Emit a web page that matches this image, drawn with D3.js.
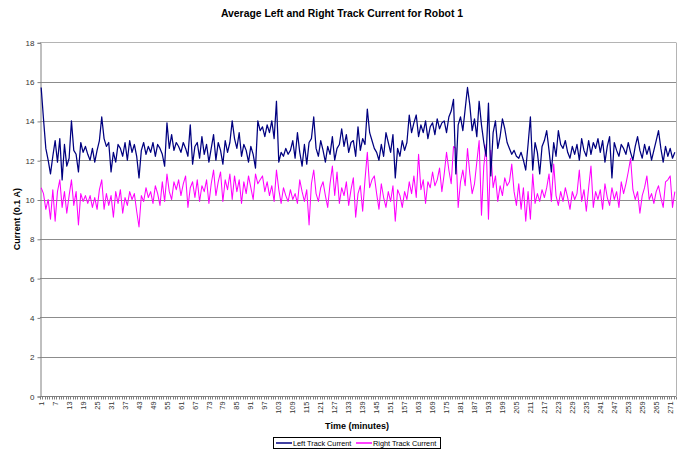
<!DOCTYPE html>
<html>
<head>
<meta charset="utf-8">
<script src="https://cdn.jsdelivr.net/npm/d3@7/dist/d3.min.js"></script>
<style>
  html, body { margin: 0; padding: 0; background: #fff; }
  svg { display: block; font-family: "Liberation Sans", Arial, sans-serif; }
</style>
</head>
<body>
<svg id="chart" width="683" height="451"></svg>
<script>
// Minute-by-minute average track current (units of 0.1 A)
const leftTrack = [
  15.7, 14.1, 12.6, 12.0, 11.3, 12.2, 13.0, 11.9, 13.1, 11.0,
  12.8, 11.7, 12.1, 14.0, 12.5, 12.3, 11.4, 12.9, 12.4, 12.7,
  12.3, 12.0, 12.6, 11.9, 12.5, 13.0, 14.2, 13.1, 12.7, 12.9,
  11.4, 12.4, 11.9, 12.8, 12.6, 12.2, 12.9, 12.0, 13.0, 12.4,
  12.8, 12.2, 11.1, 12.5, 12.9, 12.3, 12.7, 12.4, 12.9, 12.2,
  12.8, 12.6, 12.3, 11.7, 13.9, 12.6, 13.3, 12.5, 12.9, 12.7,
  12.4, 12.9, 12.6, 12.2, 13.8, 11.8, 12.7, 12.9, 12.1, 13.2,
  12.3, 12.8, 11.9, 12.6, 13.3, 12.0, 12.9, 12.5, 11.8, 13.0,
  12.4, 12.9, 14.0, 13.1, 12.6, 13.4, 12.2, 12.8, 12.5, 11.9,
  12.7, 12.3, 11.6, 14.0, 13.5, 13.7, 13.2, 13.8, 13.4, 14.0,
  13.1, 15.0, 11.9, 12.4, 12.2, 12.6, 12.3, 12.5, 13.0, 12.1,
  13.4, 12.4, 11.7, 12.8, 11.8, 12.9, 13.1, 14.2, 12.6, 12.2,
  13.0, 12.5, 11.9, 12.7, 12.3, 13.2, 12.0, 12.6, 12.8, 13.6,
  12.7, 13.3, 12.4, 12.9, 13.0, 12.2, 13.7, 12.5, 13.1, 12.8,
  14.6, 13.4, 13.0, 12.6, 12.4, 12.0, 12.8, 12.2, 13.4, 12.9,
  12.4, 13.3, 11.1, 12.6, 12.2, 13.0, 12.5, 12.9, 14.3, 13.4,
  13.9, 14.3, 13.2, 13.8, 13.4, 14.0, 13.1, 13.7, 13.9, 13.3,
  14.1, 13.6, 13.9, 14.0, 13.4, 14.2, 14.5, 15.1, 11.3, 13.8,
  14.2, 13.5, 14.6, 15.7, 14.8, 13.5, 14.1, 13.2, 15.0, 13.8,
  12.9, 12.2, 14.9, 11.2, 13.4, 14.0, 12.6, 13.2, 14.1, 13.6,
  12.9, 12.6, 12.3, 12.5, 12.2, 12.1, 12.4, 12.0, 11.5, 12.8,
  14.2, 11.5, 12.9, 12.4, 11.3, 12.7, 13.0, 13.5, 12.5, 11.4,
  12.9, 12.2, 13.5, 12.8, 12.6, 13.0, 12.4, 12.1, 12.7, 12.3,
  12.8, 12.0, 13.1, 12.5, 12.2, 13.0, 12.3, 12.9, 12.6, 13.1,
  12.4, 13.0, 11.9, 12.7, 13.2, 11.1, 12.9, 12.5, 12.2, 12.8,
  12.6, 12.3, 12.9, 12.4, 12.0, 12.7, 13.2, 12.5, 12.1, 12.8,
  12.3, 12.7, 12.0, 12.5, 13.0, 13.5, 12.6, 11.9, 12.7, 12.2,
  12.6, 12.1, 12.4
];

const rightTrack = [
  10.6, 10.3, 9.5, 10.0, 9.0, 10.5, 8.9, 10.4, 11.0, 9.6,
  10.4, 9.3, 10.2, 11.0, 9.7, 10.4, 8.7, 10.3, 9.9, 10.2,
  9.8, 10.2, 9.6, 10.1, 9.5, 10.5, 11.0, 9.5, 10.3, 9.7,
  10.2, 9.1, 10.4, 9.8, 10.5, 9.3, 10.1, 9.7, 10.4, 10.0,
  10.3, 9.4, 8.6, 10.2, 9.9, 10.6, 10.1, 10.4, 9.8, 10.7,
  10.3, 9.7, 10.9, 9.9, 11.3, 10.4, 10.0, 10.9, 10.5, 11.0,
  10.2, 10.8, 11.2, 9.6, 10.6, 10.9, 10.1, 11.0, 9.9, 10.7,
  10.4, 11.0, 9.8, 10.8, 11.5, 10.2, 10.9, 11.4, 9.9, 11.0,
  10.5, 11.3, 10.0, 11.2, 10.4, 11.0, 9.8, 10.9, 10.3, 11.2,
  10.6, 10.0, 11.3, 10.8, 11.0, 11.2, 10.4, 10.9, 10.2, 10.7,
  9.9, 11.5, 10.5, 9.8, 10.6, 10.2, 9.9, 10.5, 10.0, 10.3,
  9.8, 11.0, 10.4, 9.9, 10.5, 8.7, 10.8, 11.5, 10.3, 9.9,
  10.6, 10.9, 10.2, 9.6, 10.8, 11.7, 10.2, 11.4, 9.8, 10.6,
  10.2, 10.9, 9.7, 10.5, 11.1, 9.1, 10.3, 10.7, 9.4, 11.0,
  12.4, 10.6, 11.0, 11.2, 10.3, 9.5, 10.8, 10.1, 9.6, 10.4,
  9.9, 10.7, 8.9, 10.5, 10.2, 9.6, 10.4, 10.0, 10.9, 10.3,
  11.2, 10.1, 12.3, 10.5, 11.0, 9.8, 10.9, 10.6, 11.4, 10.7,
  11.0, 11.6, 10.4, 11.3, 12.4, 11.5, 10.8, 12.7, 12.6, 9.6,
  10.9, 11.5, 10.7, 12.6, 11.3, 10.3, 10.8, 11.9, 13.0, 9.2,
  11.7, 12.8, 9.0, 12.5, 10.6, 11.2, 9.9, 10.7, 10.2, 11.1,
  10.7, 10.9, 11.8, 10.4, 9.7, 10.8, 9.5, 10.6, 8.9, 10.4,
  9.0, 11.3, 9.8, 10.3, 9.9, 10.5, 10.1, 10.6, 11.3, 9.9,
  11.8, 10.2, 9.7, 10.4, 9.9, 10.6, 10.1, 9.5, 10.4, 10.0,
  10.3, 11.5, 9.9, 10.5, 9.4, 10.6, 11.7, 9.6, 10.4, 10.0,
  10.5, 9.5, 10.8, 10.1, 9.7, 10.6, 10.0, 10.4, 9.6, 10.9,
  10.3, 10.8, 11.4, 12.1, 10.5, 10.0, 10.4, 9.3, 10.2, 10.6,
  11.2, 10.0, 10.3, 9.8, 10.4, 10.7, 10.1, 9.6, 10.9, 11.0,
  11.2, 9.6, 10.4
];

// Time axis categories: minute 1 .. 273
const minutes = d3.range(1, leftTrack.length + 1);
// Every sixth minute gets a label
const minuteLabels = minutes.filter(m => (m - 1) % 6 === 0);
const currentTicks = [0, 2, 4, 6, 8, 10, 12, 14, 16, 18];

const seriesNames = ["Left Track Current", "Right Track Current"];
const seriesColors = ["#000080", "#ff00ff"];
const seriesWidths = [1.25, 1.05];

const svg = d3.select("#chart");
const plot = { left: 40, right: 676, top: 42.3, bottom: 396 };

const x = d3.scalePoint()
  .domain(minutes)
  .range([plot.left, plot.right])
  .padding(0.5);
const step = x.step();

const y = d3.scaleLinear()
  .domain([0, 18])
  .range([plot.bottom, plot.top]);

// Title
svg.append("text")
  .attr("x", 342).attr("y", 17)
  .attr("text-anchor", "middle")
  .attr("font-size", 10.4).attr("font-weight", "bold")
  .attr("fill", "#000")
  .text("Average Left and Right Track Current for Robot 1");

// Horizontal gridlines
svg.append("g")
  .selectAll("line")
  .data(currentTicks.filter(v => v > 0))
  .join("line")
  .attr("x1", plot.left).attr("x2", plot.right)
  .attr("y1", d => Math.round(y(d)) + 0.5).attr("y2", d => Math.round(y(d)) + 0.5)
  .attr("stroke", d => d === 18 ? "#b4b4b4" : "#8c8c8c")
  .attr("stroke-width", 1);

// Right border of plot area
svg.append("line")
  .attr("x1", plot.right + 0.5).attr("x2", plot.right + 0.5)
  .attr("y1", Math.round(plot.top) + 0.5).attr("y2", plot.bottom)
  .attr("stroke", "#b4b4b4");

// Y axis
const yAxis = d3.axisLeft(y)
  .tickValues(currentTicks)
  .tickSize(3)
  .tickPadding(3)
  .tickFormat(d3.format("d"));
const gy = svg.append("g")
  .attr("transform", `translate(${plot.left + 0.5},0.5)`)
  .call(yAxis);
gy.select(".domain").attr("stroke", "#808080");
gy.selectAll(".tick line").attr("stroke", "#808080");
gy.selectAll(".tick text")
  .attr("font-size", 8).attr("fill", "#333")
  .attr("font-family", "Liberation Sans, Arial, sans-serif");

// X axis: tick marks between categories, labels on every sixth minute
const gx = svg.append("g")
  .attr("transform", `translate(0,${Math.round(plot.bottom) + 0.5})`);
gx.append("line")
  .attr("x1", plot.left).attr("x2", plot.right)
  .attr("stroke", "#808080");
gx.selectAll("line.tk")
  .data(minutes)
  .join("line")
  .attr("class", "tk")
  .attr("x1", d => Math.round(x(d) - step / 2) + 0.5)
  .attr("x2", d => Math.round(x(d) - step / 2) + 0.5)
  .attr("y1", 0).attr("y2", 3)
  .attr("stroke", "#808080");
gx.append("line")
  .attr("x1", plot.right + 0.5).attr("x2", plot.right + 0.5)
  .attr("y1", 0).attr("y2", 3)
  .attr("stroke", "#808080");
gx.selectAll("text")
  .data(minuteLabels)
  .join("text")
  .attr("transform", d => `translate(${x(d) + 2.6},5) rotate(-90)`)
  .attr("text-anchor", "end")
  .attr("font-size", 7.4)
  .attr("fill", "#333")
  .text(d => d);

// Axis titles
svg.append("text")
  .attr("x", 357).attr("y", 429)
  .attr("text-anchor", "middle")
  .attr("font-size", 9).attr("font-weight", "bold")
  .text("Time (minutes)");
svg.append("text")
  .attr("transform", `translate(20,${(plot.top + plot.bottom) / 2}) rotate(-90)`)
  .attr("text-anchor", "middle")
  .attr("font-size", 9).attr("font-weight", "bold")
  .text("Current (0.1 A)");

// Series lines
const line = d3.line()
  .x((d, i) => x(minutes[i]))
  .y(d => y(d));
[rightTrack, leftTrack].forEach((vals, k) => {
  const idx = 1 - k;
  svg.append("path")
    .datum(vals)
    .attr("fill", "none")
    .attr("stroke", seriesColors[idx])
    .attr("stroke-width", seriesWidths[idx])
    .attr("stroke-linejoin", "round")
    .attr("d", line);
});

// Legend
const lg = svg.append("g");
lg.append("rect")
  .attr("x", 273.5).attr("y", 437.5)
  .attr("width", 167).attr("height", 11)
  .attr("fill", "#fff").attr("stroke", "#000").attr("stroke-width", 1);
const legendItems = [
  { name: seriesNames[0], color: seriesColors[0], x0: 276 },
  { name: seriesNames[1], color: seriesColors[1], x0: 356 }
];
legendItems.forEach(it => {
  lg.append("line")
    .attr("x1", it.x0).attr("x2", it.x0 + 16)
    .attr("y1", 443).attr("y2", 443)
    .attr("stroke", it.color).attr("stroke-width", 1.5);
  lg.append("text")
    .attr("x", it.x0 + 17).attr("y", 446)
    .attr("font-size", 7.3).attr("fill", "#000")
    .text(it.name);
});
</script>
</body>
</html>
